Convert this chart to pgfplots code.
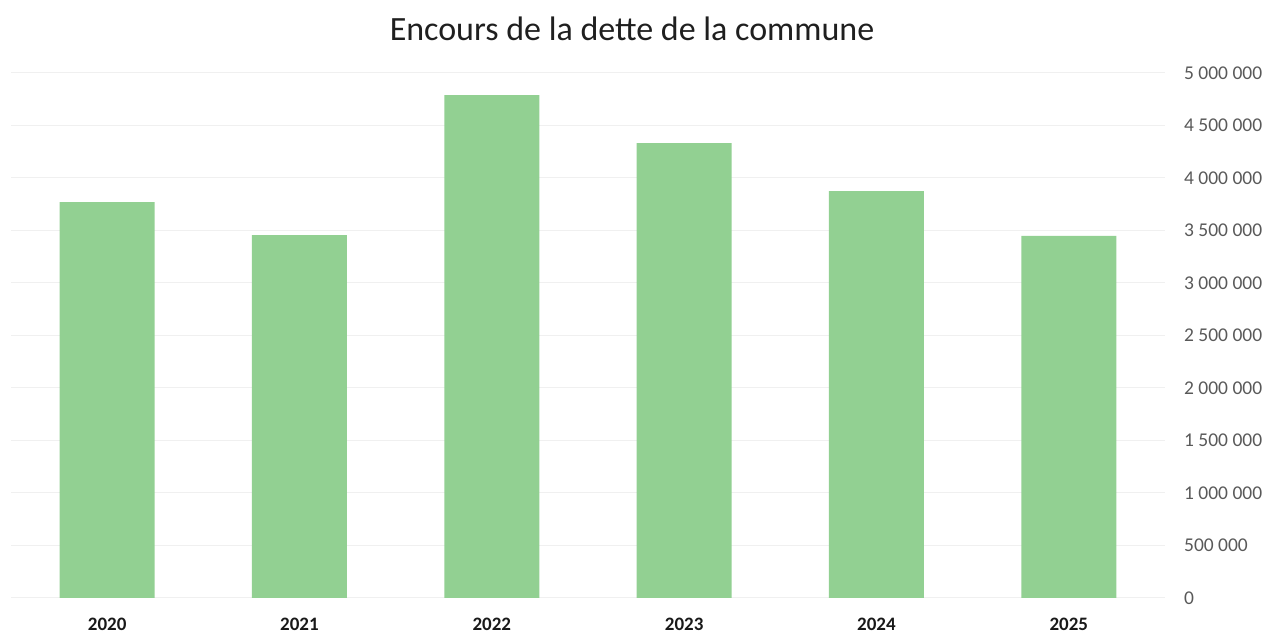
\documentclass[border=0pt]{standalone}
\usepackage{pgfplots}
\pgfplotsset{compat=1.18}
\usepackage{fontspec}
\setmainfont{Carlito}
\definecolor{bargreen}{RGB}{146,208,146}
\definecolor{gridgray}{RGB}{240,240,240}
\definecolor{ticktext}{RGB}{89,89,89}
\begin{document}
\begin{tikzpicture}
\path[use as bounding box] (-11pt,-36pt) rectangle (1253pt,598pt);
\begin{axis}[
  at={(0pt,0pt)}, anchor=south west,
  scale only axis, width=1154pt, height=525pt,
  xmin=-0.5, xmax=5.5, ymin=0, ymax=5000000,
  enlargelimits=false,
  axis line style={draw=none},
  ymajorgrids, grid style={gridgray, line width=1pt},
  major tick length=0pt,
  xtick={0,1,2,3,4,5},
  xticklabels={2020,2021,2022,2023,2024,2025},
  xticklabel style={font=\fontsize{19}{22}\selectfont\bfseries, text=black!90, anchor=north, inner sep=0pt, yshift=-20pt},
  ytick={0,500000,1000000,1500000,2000000,2500000,3000000,3500000,4000000,4500000,5000000},
  yticklabels={0,500 000,1 000 000,1 500 000,2 000 000,2 500 000,3 000 000,3 500 000,4 000 000,4 500 000,5 000 000},
  yticklabel pos=right,
  yticklabel style={font=\fontsize{19.5}{22}\selectfont, text=ticktext, anchor=west, inner sep=0pt, xshift=19pt},
  scaled y ticks=false,
]
\addplot[ybar, bar width=95pt, bar shift=0pt, fill=bargreen, draw=none] coordinates {
  (0,3771000) (1,3457000) (2,4790000) (3,4333000) (4,3876000) (5,3448000)
};
\end{axis}
\node[anchor=base, font=\fontsize{34}{40}\selectfont, text=black!88] at (621pt,557pt) {Encours de la dette de la commune};
\end{tikzpicture}
\end{document}
